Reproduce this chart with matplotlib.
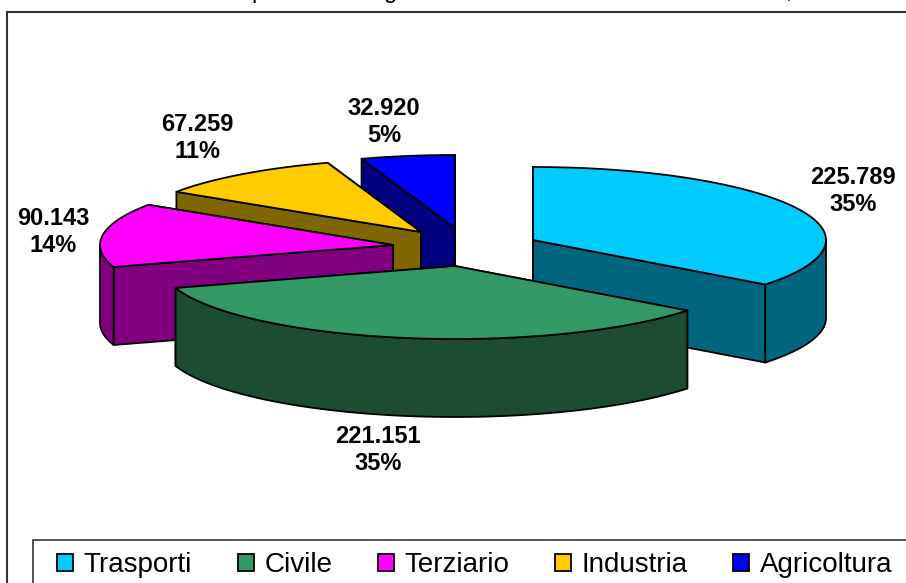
import matplotlib
matplotlib.use('Agg')
import matplotlib.pyplot as plt
import numpy as np
from matplotlib.patches import Patch, Polygon, Rectangle

categories = ['Trasporti', 'Civile', 'Terziario', 'Industria', 'Agricoltura']
values = [225789, 221151, 90143, 67259, 32920]
top_colors = ['#00CCFF', '#339966', '#FF00FF', '#FFCC00', '#0000FF']
wall_colors = ['#006680', '#1C4D33', '#800080', '#806600', '#000080']

# slice apex in pixels, the pie is exploded by hand in the original
apex_x = [533, 455, 393, 421, 455]
apex_y = [240, 266, 245, 232, 228]
label_x = [853, 378, 53, 197, 384]
label_y = [191, 450, 232, 138, 122]
draw_order = [4, 3, 2, 0, 1]

rx = 293
ry = 73
depth = 78
edge = dict(edgecolor='black', linewidth=1.3, joinstyle='round')

plt.rcParams['font.family'] = ['Liberation Sans', 'DejaVu Sans']

fig = plt.figure(figsize=(9.06, 5.83), dpi=100)
ax = fig.add_axes([0, 0, 1, 1])
ax.set_xlim(0, 906)
ax.set_ylim(583, 0)
ax.axis('off')

# frame of the chart, runs off the picture on the right and at the bottom
ax.add_patch(Rectangle((6.5, 12), 1000, 700, facecolor='white', edgecolor='#333333', linewidth=1.5))

# bottom of the cut off title line
for s, x in [('p', 258), ('g', 391), (',', 789)]:
    ax.text(x, -2, s, fontsize=17, ha='center', va='baseline', clip_on=True)


def arc(cx, cy, a0, a1, n=60):
    a = np.radians(np.linspace(a0, a1, n))
    return np.column_stack([cx + rx * np.sin(a), cy - ry * np.cos(a)])


total = sum(values)
ends = np.cumsum(values) / total * 360
starts = np.concatenate([[0], ends[:-1]])

for i in draw_order:
    cx, cy = apex_x[i], apex_y[i]
    a0, a1 = starts[i], ends[i]
    down = np.array([0, depth])

    # the two cut faces, back one first
    walls = []
    for a in (a0, a1):
        p = arc(cx, cy, a, a, 1)[0]
        c = np.array([cx, cy])
        walls.append([c, p, p + down, c + down])
    walls.sort(key=lambda w: w[0][1] + w[1][1])
    for w in walls:
        ax.add_patch(Polygon(w, closed=True, facecolor=wall_colors[i], **edge))

    # outer rim, only the part turned to the viewer
    r0, r1 = max(a0, 90), min(a1, 270)
    if r1 > r0:
        pts = arc(cx, cy, r0, r1)
        ax.add_patch(Polygon(np.vstack([pts, pts[::-1] + down]), closed=True,
                             facecolor=wall_colors[i], **edge))

    top = np.vstack([[cx, cy], arc(cx, cy, a0, a1)])
    ax.add_patch(Polygon(top, closed=True, facecolor=top_colors[i], **edge))

    pct = round(values[i] / total * 100)
    txt = f'{values[i]:,}'.replace(',', '.') + f'\n{pct}%'
    ax.text(label_x[i], label_y[i], txt, fontsize=17, fontweight='bold',
            ha='center', va='center', linespacing=1.27)

# legend box also runs off the picture
ax.add_patch(Rectangle((33, 540), 1000, 100, facecolor='white', edgecolor='#222222', linewidth=1.1))
handles = [Patch(facecolor=c, edgecolor='black', linewidth=1.3) for c in top_colors]
leg = ax.legend(handles, categories, ncol=5, loc='upper left',
                bbox_to_anchor=(57 / 906, 1 - 552 / 583), fontsize=20,
                frameon=False, handlelength=0.58, handleheight=0.58, handletextpad=0.38,
                columnspacing=1.64, borderpad=0, borderaxespad=0)

plt.savefig('out.png', dpi=100)
